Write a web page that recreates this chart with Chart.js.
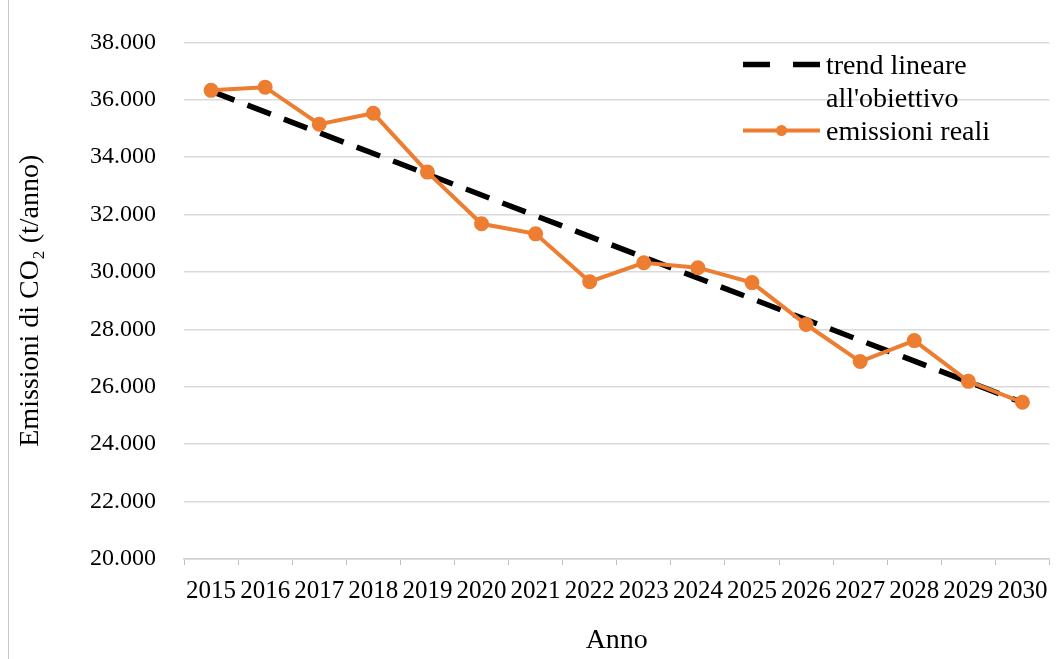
<!DOCTYPE html>
<html>
<head>
<meta charset="utf-8">
<script src="https://cdn.jsdelivr.net/npm/chart.js@4/dist/chart.umd.min.js"></script>
<style>
  html, body { margin: 0; padding: 0; background: #fff; }
  #wrap { position: relative; width: 1059px; height: 659px; }
  #edge { position: absolute; left: 8px; top: 0; width: 0; height: 659px; border-left: 1px solid #c8c8c8; }
  #legend { position: absolute; left: 743px; top: 48px; font-family: "Liberation Serif", "Times New Roman", serif; font-size: 28px; line-height: 33px; color: #000; }
  .item { display: flex; align-items: flex-start; }
  .item svg { flex: none; margin-right: 6px; }
  .item span { width: 200px; }
</style>
</head>
<body>
<div id="wrap">
  <canvas id="chart" width="1059" height="659"></canvas>
  <div id="edge"></div>
  <div id="legend"></div>
</div>
<script>
const years = ['2015','2016','2017','2018','2019','2020','2021','2022','2023','2024','2025','2026','2027','2028','2029','2030'];
// only the two ends of the target trend are read; the line joins them
const trendValues = [36300, null, null, null, null, null, null, null, null, null, null, null, null, null, null, 25450];
const realValues = [36330, 36440, 35150, 35530, 33480, 31680, 31330, 29660, 30320, 30150, 29630, 28170, 26880, 27610, 26190, 25460];
const trendLabel = "trend lineare all'obiettivo";
const realLabel = 'emissioni reali';
const yTitle = 'Emissioni di CO\u2082 (t/anno)';
const xTitle = 'Anno';

const orange = '#ED7D31';
const serif = '"Liberation Serif", "Times New Roman", serif';

function itNumber(v) {
    return String(Math.round(v)).replace(/\B(?=(\d{3})+(?!\d))/g, '.');
}

const ctx = document.getElementById('chart').getContext('2d');
const chart = new Chart(ctx, {
    type: 'line',
    data: {
        labels: years,
        datasets: [
            { label: trendLabel, data: trendValues, borderColor: '#000', borderWidth: 5.5, borderDash: [25, 14], pointRadius: 0, spanGaps: true, fill: false, order: 2 },
            { label: realLabel, data: realValues, borderColor: orange, backgroundColor: orange, borderWidth: 4, pointRadius: 5.5, pointBackgroundColor: orange, pointBorderColor: orange, tension: 0, fill: false, order: 1 }
        ]
    },
    options: {
        responsive: false,
        animation: false,
        layout: { padding: { left: 14, right: 0, top: 41, bottom: 0 } },
        plugins: { legend: { display: false }, tooltip: { enabled: false } },
        scales: {
            x: {
                offset: true,
                grid: { offset: true, drawOnChartArea: false, color: '#bfbfbf', tickLength: 6 },
                border: { color: '#d0d0d0', width: 1.5 },
                ticks: { color: '#000', font: { family: serif, size: 25 }, padding: 11, maxRotation: 0, autoSkip: false },
                title: { display: true, text: xTitle, color: '#000', font: { family: serif, size: 28 }, padding: { top: 4, bottom: 2 } },
                afterFit: function(scale) { scale.height = 100; }
            },
            y: {
                min: 20000, max: 38000,
                grid: { color: '#d9d9d9', lineWidth: 1.5, drawTicks: false },
                border: { display: false },
                ticks: { stepSize: 2000, color: '#000', font: { family: serif, size: 24 }, padding: 28, callback: v => itNumber(v) },
                title: { display: true, text: yTitle, color: '#000', font: { family: serif, size: 28 }, padding: { top: 0, bottom: 0 } },
                afterFit: function(scale) { scale.width = 170; }
            }
        }
    }
});

// HTML legend so that the long label can wrap like the original
const legendEl = document.getElementById('legend');
chart.data.datasets.forEach(ds => {
    const item = document.createElement('div');
    item.className = 'item';
    let sample = '<svg width="77" height="33" viewBox="0 0 77 33">';
    if (ds.borderDash) {
        sample += '<line x1="0" y1="16.5" x2="77" y2="16.5" stroke="' + ds.borderColor + '" stroke-width="' + ds.borderWidth + '" stroke-dasharray="27,23"/>';
    } else {
        sample += '<line x1="0" y1="16.5" x2="77" y2="16.5" stroke="' + ds.borderColor + '" stroke-width="' + ds.borderWidth + '"/>';
        sample += '<circle cx="38.5" cy="16.5" r="' + ds.pointRadius + '" fill="' + ds.pointBackgroundColor + '"/>';
    }
    sample += '</svg>';
    item.innerHTML = sample + '<span>' + ds.label + '</span>';
    legendEl.appendChild(item);
});
</script>
</body>
</html>
